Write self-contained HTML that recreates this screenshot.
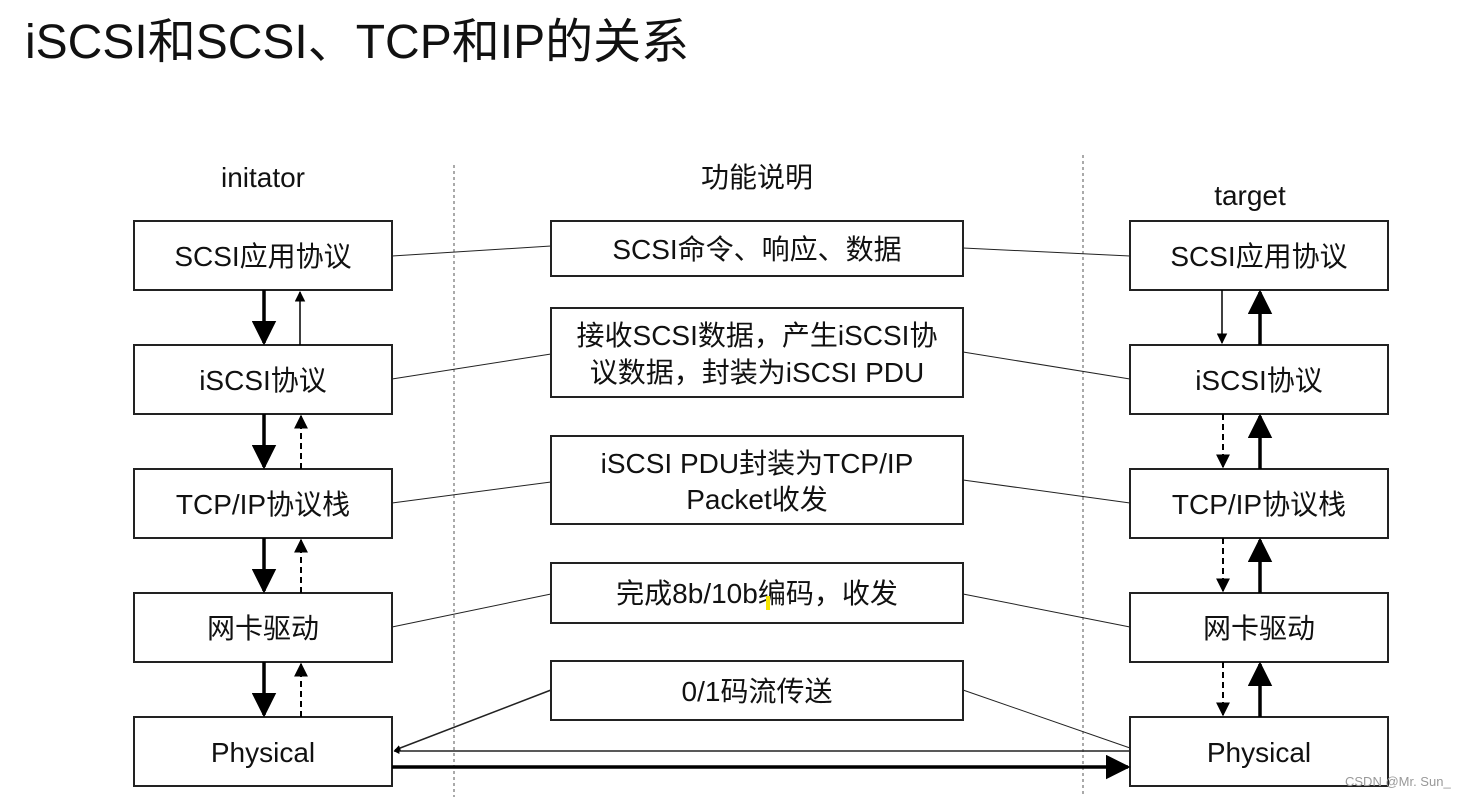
<!DOCTYPE html>
<html><head><meta charset="utf-8"><style>
body{margin:0;background:#fff;width:1466px;height:797px;overflow:hidden}
svg text{font-family:"Liberation Sans","Noto Sans CJK SC",sans-serif;fill:#111}
</style></head><body>
<svg width="1466" height="797" xmlns="http://www.w3.org/2000/svg">
<defs>
<marker id="a" viewBox="0 0 10 10" refX="9" refY="5" markerWidth="4" markerHeight="4" orient="auto"><path d="M0,0L10,5L0,10z" fill="#000"/></marker>
<marker id="b" viewBox="0 0 10 10" refX="9" refY="5" markerWidth="7" markerHeight="7" orient="auto"><path d="M0,0L10,5L0,10z" fill="#000"/></marker>
</defs>
<text x="25" y="58" font-size="48">iSCSI和SCSI、TCP和IP的关系</text>
<g stroke="#555" stroke-dasharray="3,3" stroke-width="1"><line x1="454" y1="165" x2="454" y2="797"/><line x1="1083" y1="155" x2="1083" y2="797"/></g>
<g font-size="28" text-anchor="middle">
<text x="263" y="187">initator</text><text x="757" y="187">功能说明</text><text x="1250" y="205">target</text>
</g>
<g fill="#fff" stroke="#222" stroke-width="2">
<rect x="134" y="221" width="258" height="69"/><rect x="134" y="345" width="258" height="69"/><rect x="134" y="469" width="258" height="69"/><rect x="134" y="593" width="258" height="69"/><rect x="134" y="717" width="258" height="69"/>
<rect x="1130" y="221" width="258" height="69"/><rect x="1130" y="345" width="258" height="69"/><rect x="1130" y="469" width="258" height="69"/><rect x="1130" y="593" width="258" height="69"/><rect x="1130" y="717" width="258" height="69"/>
<rect x="551" y="221" width="412" height="55"/><rect x="551" y="308" width="412" height="89"/><rect x="551" y="436" width="412" height="88"/><rect x="551" y="563" width="412" height="60"/><rect x="551" y="661" width="412" height="59"/>
</g>
<g font-size="28" text-anchor="middle">
<text x="263" y="266">SCSI应用协议</text><text x="263" y="390">iSCSI协议</text><text x="263" y="514">TCP/IP协议栈</text><text x="263" y="638">网卡驱动</text><text x="263" y="762">Physical</text>
<text x="1259" y="266">SCSI应用协议</text><text x="1259" y="390">iSCSI协议</text><text x="1259" y="514">TCP/IP协议栈</text><text x="1259" y="638">网卡驱动</text><text x="1259" y="762">Physical</text>
<text x="757" y="259">SCSI命令、响应、数据</text>
<text x="757" y="345">接收SCSI数据，产生iSCSI协</text><text x="757" y="382">议数据，封装为iSCSI PDU</text>
<text x="757" y="473">iSCSI PDU封装为TCP/IP</text><text x="757" y="509">Packet收发</text>
<text x="757" y="603">完成8b/10b编码，收发</text>
<text x="757" y="701">0/1码流传送</text>
</g>
<g stroke="#222" stroke-width="1">
<line x1="392" y1="256" x2="551" y2="246"/><line x1="392" y1="379" x2="551" y2="354"/><line x1="392" y1="503" x2="551" y2="482"/><line x1="392" y1="627" x2="551" y2="594"/>
<line x1="963" y1="248" x2="1130" y2="256"/><line x1="963" y1="352" x2="1130" y2="379"/><line x1="963" y1="480" x2="1130" y2="503"/><line x1="963" y1="594" x2="1130" y2="627"/><line x1="963" y1="690" x2="1130" y2="748"/>
<line x1="551" y1="690" x2="395" y2="750" marker-end="url(#a)" stroke-width="1.5"/>
<line x1="1130" y1="751" x2="394" y2="751" marker-end="url(#a)" stroke-width="1.5"/>
</g>
<line x1="392" y1="767" x2="1128" y2="767" stroke="#000" stroke-width="3.5" marker-end="url(#b)"/>
<g stroke="#000">
<g stroke-width="3.5"><line x1="264" y1="290" x2="264" y2="343" marker-end="url(#b)"/><line x1="264" y1="414" x2="264" y2="467" marker-end="url(#b)"/><line x1="264" y1="538" x2="264" y2="591" marker-end="url(#b)"/><line x1="264" y1="662" x2="264" y2="715" marker-end="url(#b)"/>
<line x1="1260" y1="345" x2="1260" y2="292" marker-end="url(#b)"/><line x1="1260" y1="469" x2="1260" y2="416" marker-end="url(#b)"/><line x1="1260" y1="593" x2="1260" y2="540" marker-end="url(#b)"/><line x1="1260" y1="717" x2="1260" y2="664" marker-end="url(#b)"/></g>
<g stroke-width="1.5"><line x1="300" y1="345" x2="300" y2="292" marker-end="url(#b)"/><line x1="1222" y1="290" x2="1222" y2="343" marker-end="url(#b)"/></g>
<g stroke-width="2" stroke-dasharray="6,4"><line x1="301" y1="469" x2="301" y2="416" marker-end="url(#b)"/><line x1="301" y1="593" x2="301" y2="540" marker-end="url(#b)"/><line x1="301" y1="717" x2="301" y2="664" marker-end="url(#b)"/>
<line x1="1223" y1="414" x2="1223" y2="467" marker-end="url(#b)"/><line x1="1223" y1="538" x2="1223" y2="591" marker-end="url(#b)"/><line x1="1223" y1="662" x2="1223" y2="715" marker-end="url(#b)"/></g>
</g>
<rect x="766" y="596" width="4" height="14" fill="#f5e400"/>
<text x="1345" y="786" font-size="13" fill="#999" style="fill:#999">CSDN @Mr. Sun_</text>
</svg>
</body></html>
